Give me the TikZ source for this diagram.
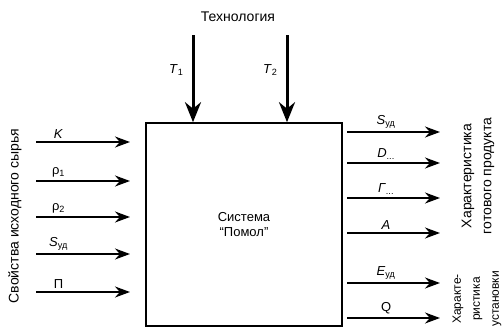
\documentclass[tikz,border=0pt]{standalone}
\usepackage{fontspec}
\setmainfont{Liberation Sans}
\usepackage{tikz}
\usetikzlibrary{arrows.meta,positioning,calc}

\begin{document}
\begin{tikzpicture}[
      x=1pt,y=-1pt,
      sysbox/.style={draw,line width=1.6pt,minimum width=196pt,minimum height=203pt,align=center,font=\fontsize{13}{15}\selectfont},
      inarrow/.style={line width=1.6pt,-{Stealth[length=15pt,width=11pt]}},
      techarrow/.style={line width=3pt,-{Stealth[length=20pt,width=16pt]}},
      lbl/.style={font=\fontsize{13}{15}\selectfont,inner sep=1pt},
      side/.style={rotate=90,align=center,font=\fontsize{14}{20}\selectfont}
    ]
    \useasboundingbox (0,0) rectangle (504,333);
    \node[sysbox] (sys) at (244,224.5) {Система\\``Помол''};
    \node[font=\fontsize{14}{16}\selectfont] (tech) at (238,17) {Технология};
    % technology inputs
    \coordinate (t1) at (193,35);
    \coordinate (t2) at (287,35);
    \draw[techarrow] (t1)--(t1 |- sys.north) node[pos=0.4,left=7pt,lbl] (t1lbl) {\textit{T}\textsubscript{1}};
    \draw[techarrow] (t2)--(t2 |- sys.north) node[pos=0.4,left=7pt,lbl] (t2lbl) {\textit{T}\textsubscript{2}};
    % raw material properties
    \foreach \y/\name/\txt in {142/k/\textit{K},181/ra/ρ\textsubscript{1},217/rb/ρ\textsubscript{2},254/su/\textit{S}\textsubscript{уд},292/pp/П}{
      \coordinate (\name a) at (36,\y);
      \coordinate (\name b) at (130,\y);
      \draw[inarrow] (\name a)--(\name b) node[pos=0.24,above=2pt,lbl] (\name lbl) {\txt};
    }
    % product and plant characteristics
    \foreach \y/\name/\txt in {132/so/\textit{S}\textsubscript{уд},163/dd/\textit{D}\textsubscript{...},198/gg/\textit{Г}\textsubscript{...},233/aa/\textit{A},283/ee/\textit{E}\textsubscript{уд},318/qq/Q}{
      \coordinate (\name a) at (347,\y);
      \coordinate (\name b) at (440,\y);
      \draw[inarrow] (\name a)--(\name b) node[pos=0.42,above=2pt,lbl] (\name lbl) {\txt};
    }
    \node[side] (raw) at (15,216) {Свойства исходного сырья};
    \node[side] (prod) at (478,176) {Характеристика\\готового продукта};
    \node[side,font=\fontsize{12}{19}\selectfont] (plant) at (477,299) {Характе-\\ристика\\установки};
  \end{tikzpicture}
\end{document}
